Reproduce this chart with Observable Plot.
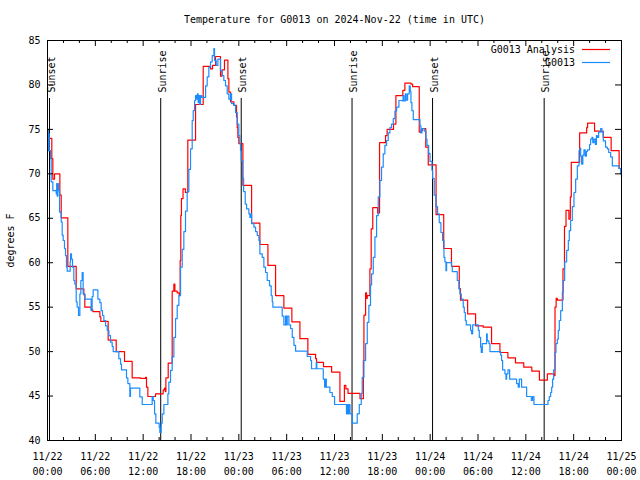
<!DOCTYPE html>
<html>
<head>
<meta charset="utf-8">
<script src="https://cdn.jsdelivr.net/npm/d3@7"></script>
<script src="https://cdn.jsdelivr.net/npm/@observablehq/plot@0.6"></script>
<style>
  html, body { margin: 0; padding: 0; background: #fff; }
</style>
</head>
<body>
<div id="chart"></div>
<script>
// ---- data (hours after 2024-11-22 00:00 UTC, temperature in °F) ----
const titleText = "Temperature for G0013 on 2024-Nov-22 (time in UTC)";
const yLabelText = "degrees F";
const seriesNames = ["G0013 Analysis", "G0013"];
const seriesColors = ["#ff0000", "#1a8cff"];
const yTicks = [40, 45, 50, 55, 60, 65, 70, 75, 80, 85];
const eventHours = [0.25, 14.2, 24.3, 38.2, 48.3, 62.3];
const eventLabels = ["Sunset", "Sunrise", "Sunset", "Sunrise", "Sunset", "Sunrise"];

const analysisSeries = [
[0.0,74.0],[0.54,71.7],[0.67,69.4],[0.88,70.0],[1.55,67.6],[1.72,65.05],[2.55,59.6],[3.6,57.06],[4.56,56.4],[4.68,55.0],
[5.48,54.7],[5.69,54.5],[6.57,53.9],[6.69,53.4],[7.61,51.3],[8.62,50.0],[9.66,48.9],[10.62,47.05],[11.67,47.0],[12.3,47.1],
[12.42,46.0],[12.59,44.95],[13.55,45.25],[14.51,45.7],[14.68,45.9],[14.78,45.5],[14.85,47.05],[15.14,48.7],[15.64,56.8],[15.85,57.6],
[15.98,56.8],[16.27,56.6],[16.52,56.3],[16.64,60.25],[16.72,65.3],[16.8,67.2],[17.0,68.3],[17.3,67.9],[17.6,73.8],[18.57,77.8],
[19.53,82.1],[20.45,81.8],[20.7,82.2],[21.08,83.2],[21.7,81.0],[21.9,81.7],[22.2,82.8],[22.63,80.7],[22.75,79.2],[22.96,78.1],
[23.38,77.7],[23.71,76.4],[23.8,75.2],[23.88,74.1],[24.0,73.4],[24.51,68.7],[25.6,64.45],[26.64,62.05],[27.65,59.7],[28.61,56.3],
[29.65,54.9],[30.65,53.35],[31.66,51.45],[32.66,49.7],[33.63,49.2],[33.75,48.8],[34.62,48.3],[35.64,47.7],[36.68,44.4],[37.24,46.2],
[37.43,45.8],[37.7,45.3],[39.2,44.7],[39.62,49.0],[39.69,54.1],[39.9,56.6],[40.02,56.0],[40.11,56.3],[40.44,59.3],[40.6,63.8],
[40.8,66.2],[41.4,65.6],[41.65,73.5],[42.4,74.3],[42.6,75.0],[43.4,75.6],[43.7,78.8],[44.57,79.4],[44.83,80.2],[45.6,80.1],
[45.8,79.8],[46.63,74.7],[46.84,74.9],[47.05,75.1],[47.45,73.0],[47.76,71.0],[48.74,65.4],[49.7,61.6],[50.67,59.6],[51.65,57.1],
[51.8,55.8],[52.7,54.25],[53.7,52.9],[54.66,52.75],[55.7,50.9],[56.75,49.9],[57.75,49.3],[58.7,48.74],[59.74,48.25],[60.75,47.8],
[61.7,46.8],[62.7,47.5],[63.53,47.3],[63.66,55.0],[63.8,56.0],[63.95,55.8],[64.66,59.3],[64.85,64.1],[65.04,65.9],[65.4,64.9],
[65.58,67.4],[65.7,71.3],[66.75,74.6],[67.63,75.2],[67.75,75.7],[68.62,74.8],[69.7,74.1],[70.7,72.6],[71.7,70.6],[72.0,70.6]
];

const observedSeries = [
[0.0,73.5],[0.04,75.0],[0.1,72.6],[0.15,74.5],[0.21,72.6],[0.38,71.7],[0.46,69.1],[0.67,68.1],[1.09,67.75],[1.15,68.9],
[1.21,67.5],[1.3,68.9],[1.38,68.1],[1.51,65.7],[1.72,64.6],[1.84,63.1],[1.97,62.5],[2.13,61.6],[2.26,60.8],[2.38,59.5],
[2.47,59.05],[2.84,60.1],[2.89,61.0],[3.01,60.4],[3.14,59.5],[3.3,58.0],[3.43,57.6],[3.6,55.6],[3.72,55.0],[3.89,54.06],
[4.06,56.5],[4.18,58.0],[4.35,58.9],[4.47,56.5],[4.69,55.9],[5.31,55.9],[5.48,54.6],[5.6,56.2],[5.73,56.95],[6.15,56.95],
[6.32,55.9],[6.57,55.5],[6.73,54.6],[6.9,54.06],[7.07,53.5],[7.28,52.9],[7.49,52.4],[7.7,51.8],[7.9,51.06],[8.11,50.6],
[8.24,50.0],[8.82,50.0],[8.95,49.2],[9.16,48.6],[9.28,47.95],[9.74,47.95],[9.91,47.05],[10.08,46.4],[10.33,44.95],[10.41,45.9],
[11.46,45.9],[11.58,44.9],[11.88,44.05],[12.92,44.05],[13.13,44.95],[13.26,44.5],[13.43,43.0],[13.59,41.95],[13.84,41.95],[14.01,41.5],
[14.09,40.9],[14.26,41.95],[14.39,43.0],[14.6,44.05],[14.93,44.05],[15.1,45.25],[15.22,46.56],[15.43,47.9],[15.64,49.4],[15.85,51.6],
[16.06,53.7],[16.27,55.2],[16.48,56.3],[16.69,59.5],[16.9,61.5],[17.1,63.5],[17.31,65.8],[17.52,68.0],[17.73,70.5],[17.94,72.8],
[18.15,76.0],[18.28,77.1],[18.45,78.25],[18.57,78.8],[18.7,78.4],[18.8,79.0],[18.9,78.0],[19.0,78.8],[19.1,77.8],[19.2,78.8],
[19.35,78.6],[19.83,79.9],[20.03,80.9],[20.24,82.0],[20.45,82.6],[20.66,83.3],[20.87,84.1],[20.95,82.75],[21.16,82.2],[21.37,82.9],
[21.62,82.9],[21.7,81.6],[21.91,81.06],[22.12,80.5],[22.33,79.9],[22.54,79.0],[22.75,78.4],[22.96,79.0],[23.09,77.9],[23.38,77.7],
[23.59,76.9],[23.8,75.6],[24.0,74.3],[24.13,73.4],[24.21,72.6],[24.3,71.5],[24.47,69.5],[24.6,68.0],[24.8,66.6],[24.97,66.06],
[25.26,65.5],[25.39,65.1],[25.47,65.5],[25.6,64.4],[25.89,64.0],[26.1,63.5],[26.31,63.06],[26.52,62.5],[26.64,61.0],[26.93,60.6],
[27.14,59.5],[27.35,58.9],[27.56,58.0],[27.85,57.4],[28.06,56.3],[28.19,55.6],[28.27,55.0],[29.23,55.0],[29.44,54.0],[29.65,53.0],
[29.86,54.0],[29.99,53.0],[30.07,54.0],[30.28,53.0],[30.49,52.6],[30.7,51.6],[30.91,50.7],[31.12,50.05],[32.5,50.05],[32.58,49.45],
[33.0,49.0],[33.12,48.07],[33.71,48.8],[33.78,48.07],[34.46,48.07],[34.59,46.9],[34.76,46.0],[34.88,46.9],[34.98,46.0],[35.42,45.4],
[35.72,44.95],[36.01,44.05],[37.39,44.05],[37.5,43.0],[37.6,44.05],[37.7,43.0],[37.8,44.05],[37.94,43.0],[38.23,41.95],[38.65,41.95],
[38.85,43.0],[39.11,44.05],[39.36,45.3],[39.48,47.1],[39.69,49.0],[39.9,50.9],[40.11,53.3],[40.31,55.2],[40.52,57.5],[40.65,58.75],
[40.86,60.6],[41.07,62.9],[41.28,65.3],[41.49,67.4],[41.69,69.25],[41.9,70.75],[42.11,72.25],[42.32,73.2],[42.53,73.75],[42.74,74.6],
[42.95,75.2],[43.15,75.6],[43.37,76.2],[43.58,77.05],[43.79,77.5],[44.08,78.25],[44.5,78.2],[44.6,78.8],[44.7,78.2],[44.88,79.0],
[45.0,78.3],[45.17,79.0],[45.38,79.9],[45.5,79.3],[45.59,78.0],[45.71,77.1],[45.88,76.1],[46.63,76.1],[46.72,75.4],[46.84,74.6],
[46.97,75.1],[47.26,74.8],[47.47,73.9],[47.6,73.2],[47.81,72.3],[47.98,71.4],[48.22,70.4],[48.31,69.5],[48.51,67.6],[48.72,66.3],
[48.93,65.5],[49.14,64.5],[49.35,63.4],[49.56,62.5],[49.73,60.6],[49.85,60.1],[49.98,59.1],[50.06,60.0],[50.69,59.6],[50.77,59.0],
[51.32,59.0],[51.4,58.0],[51.61,57.06],[51.73,56.5],[51.9,55.9],[52.15,55.0],[52.28,54.4],[52.41,53.5],[52.53,53.0],[52.99,53.0],
[53.07,52.4],[53.2,52.0],[53.33,53.0],[53.91,53.0],[54.04,52.4],[54.16,51.6],[54.33,50.5],[54.41,49.9],[54.54,50.9],[55.08,52.0],
[55.16,51.2],[55.37,50.9],[55.5,50.0],[56.71,50.0],[56.84,49.6],[56.96,49.0],[57.09,47.95],[57.38,47.5],[57.51,46.9],[57.59,47.5],
[57.76,47.95],[57.97,46.9],[58.72,46.9],[58.84,46.4],[59.05,46.0],[59.18,46.9],[59.47,46.0],[60.1,44.95],[60.6,44.95],[60.69,44.5],
[60.85,44.95],[61.02,44.05],[62.61,44.05],[62.78,44.5],[62.94,44.95],[63.11,45.4],[63.24,46.0],[63.36,46.9],[63.49,47.95],[63.66,49.9],
[63.78,50.9],[63.95,51.4],[64.07,52.4],[64.2,53.5],[64.37,54.6],[64.58,56.7],[64.7,58.0],[64.87,60.1],[65.12,61.4],[65.33,62.5],
[65.45,63.6],[65.62,64.75],[65.83,66.3],[66.04,67.9],[66.25,69.4],[66.46,70.9],[66.67,72.6],[66.8,72.9],[66.88,72.0],[67.0,71.1],
[67.15,72.1],[67.29,72.7],[67.45,72.0],[67.6,72.5],[67.71,72.7],[68.0,73.3],[68.13,73.9],[68.3,74.1],[68.4,73.5],[68.55,73.9],
[68.72,73.3],[68.85,74.3],[68.97,74.1],[69.13,74.7],[69.38,75.1],[69.55,74.7],[69.72,73.7],[70.0,73.0],[70.22,72.8],[70.4,72.4],
[70.64,71.9],[70.85,70.9],[71.47,70.9],[71.67,70.6],[71.89,70.0],[72.0,69.6]
];

// ---- build tables ----
const t0 = Date.UTC(2024, 10, 22, 0, 0);
const toDate = h => new Date(t0 + h * 3600000);
const analysis = analysisSeries.map(([h, v]) => ({time: toDate(h), temp: v}));
const observed = observedSeries.map(([h, v]) => ({time: toDate(h), temp: v}));
const events = eventHours.map((h, i) => ({time: toDate(h), label: eventLabels[i]}));
const xStart = toDate(0), xEnd = toDate(72);
const majorX = d3.utcHour.every(6).range(xStart, new Date(+xEnd + 1));
const minorX = d3.utcHour.every(2).range(xStart, new Date(+xEnd + 1)).filter(d => d.getUTCHours() % 6 !== 0);

const W = 640, H = 480, mL = 47, mR = 19, mT = 40, mB = 40;
const innerW = W - mL - mR, innerH = H - mT - mB;
const font = "'DejaVu Sans Mono', 'Liberation Mono', monospace";

const svg = Plot.plot({
  width: W, height: H,
  marginLeft: mL, marginRight: mR, marginTop: mT, marginBottom: mB,
  style: {fontFamily: font, fontSize: "10px", background: "#fff", color: "#000", overflow: "visible"},
  x: {type: "utc", domain: [xStart, xEnd]},
  y: {domain: [40, 85]},
  marks: [
    Plot.ruleX(events, {x: "time", insetTop: 58, stroke: "#000", strokeWidth: 1}),
    Plot.text(events, {x: "time", text: "label", frameAnchor: "top", rotate: -90, textAnchor: "start", lineAnchor: "middle", dy: 52, dx: 2, fill: "#000"}),
    Plot.line(analysis, {x: "time", y: "temp", curve: "step-after", stroke: seriesColors[0], strokeWidth: 1.2}),
    Plot.line(observed, {x: "time", y: "temp", curve: "step-after", stroke: seriesColors[1], strokeWidth: 1.2}),
    Plot.frame({stroke: "#000", strokeWidth: 1}),
    // inward ticks on all four sides
    Plot.ruleX(majorX, {insetTop: innerH - 6, stroke: "#000"}),
    Plot.ruleX(majorX, {insetBottom: innerH - 6, stroke: "#000"}),
    Plot.ruleX(minorX, {insetTop: innerH - 3, stroke: "#000"}),
    Plot.ruleX(minorX, {insetBottom: innerH - 3, stroke: "#000"}),
    Plot.ruleY(yTicks, {insetRight: innerW - 6, stroke: "#000"}),
    Plot.ruleY(yTicks, {insetLeft: innerW - 6, stroke: "#000"}),
    Plot.axisX({ticks: majorX, tickSize: 0, tickPadding: 9, tickFormat: d3.utcFormat("%m/%d\n%H:%M"), label: null, lineHeight: 1.5}),
    Plot.axisY({ticks: yTicks, tickSize: 0, tickPadding: 7, tickFormat: d => String(d), label: null}),
    Plot.text([titleText], {frameAnchor: "top", dy: -21, lineAnchor: "middle", fill: "#000"}),
    Plot.text([yLabelText], {frameAnchor: "left", dx: -37, rotate: -90, lineAnchor: "middle", textAnchor: "middle", fill: "#000"})
  ]
});

// ---- legend inside the top-right corner ----
const sel = d3.select(svg);
const lg = sel.append("g").attr("font-family", font).attr("font-size", 10);
seriesNames.forEach((name, i) => {
  const y = 49.5 + i * 13;
  lg.append("text").attr("x", 575).attr("y", y).attr("text-anchor", "end")
    .attr("dominant-baseline", "middle").attr("fill", "#000").text(name);
  lg.append("line").attr("x1", 582).attr("x2", 610).attr("y1", y).attr("y2", y)
    .attr("stroke", seriesColors[i]).attr("stroke-width", 1.2);
});

document.getElementById("chart").appendChild(svg);
</script>
</body>
</html>
